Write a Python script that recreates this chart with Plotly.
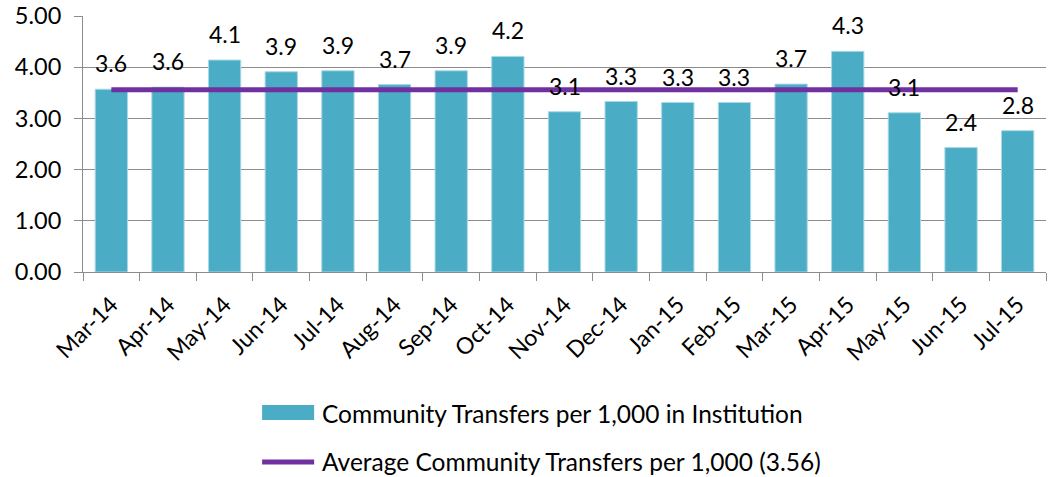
import plotly.graph_objects as go

# Monthly community transfers per 1,000 residents in the institution
months = ["Mar-14", "Apr-14", "May-14", "Jun-14", "Jul-14", "Aug-14", "Sep-14",
          "Oct-14", "Nov-14", "Dec-14", "Jan-15", "Feb-15", "Mar-15", "Apr-15",
          "May-15", "Jun-15", "Jul-15"]
transfers = [3.57, 3.61, 4.14, 3.91, 3.93, 3.66, 3.93, 4.21, 3.13, 3.33,
             3.31, 3.31, 3.67, 4.31, 3.11, 2.43, 2.76]
average = 3.56
y_ticks = [0, 1, 2, 3, 4, 5]

bar_name = "Community Transfers per 1,000 in Institution"
avg_name = f"Average Community Transfers per 1,000 ({average:.2f})"

BAR = "#4BACC6"
AVG = "#7030A0"
GRID = "#8C8C8C"
FONT = "Lato"

fig = go.Figure()
fig.add_trace(go.Bar(
    x=months, y=transfers, name=bar_name,
    marker=dict(color=BAR, line=dict(color="#A8D8E6", width=1)),
    width=0.57, showlegend=False,
))
fig.add_trace(go.Scatter(
    x=months, y=[average] * len(months), name=avg_name, mode="lines",
    line=dict(color=AVG, width=5), showlegend=False,
))

# value labels above each bar
for m, v in zip(months, transfers):
    fig.add_annotation(x=m, y=v, text=f"{v:.1f}", showarrow=False,
                       yshift=26, yanchor="middle",
                       font=dict(family=FONT, size=23, color="#000000"))

# legend drawn beneath the axis
fig.add_shape(type="rect", xref="paper", yref="paper",
              x0=0.186, x1=0.240, y0=-0.520, y1=-0.578,
              fillcolor=BAR, line=dict(width=0))
fig.add_shape(type="line", xref="paper", yref="paper",
              x0=0.186, x1=0.240, y0=-0.742, y1=-0.742,
              line=dict(color=AVG, width=5))
fig.add_annotation(xref="paper", yref="paper", x=0.2461, y=-0.551,
                   xanchor="left", yanchor="middle", showarrow=False,
                   text=bar_name, font=dict(family=FONT, size=24.5, color="#000000"))
fig.add_annotation(xref="paper", yref="paper", x=0.2461, y=-0.742,
                   xanchor="left", yanchor="middle", showarrow=False,
                   text=avg_name, font=dict(family=FONT, size=24.5, color="#000000"))

fig.update_layout(
    width=1048, height=477,
    margin=dict(l=83, r=2, t=16, b=205),
    paper_bgcolor="white", plot_bgcolor="white",
    font=dict(family=FONT, size=24, color="#000000"),
    bargap=0.43,
)
fig.update_xaxes(
    type="category", tickangle=-45, tickson="boundaries",
    ticks="outside", ticklen=8, tickcolor=GRID,
    showline=True, linecolor=GRID, linewidth=1,
    showgrid=False, tickfont=dict(family=FONT, size=23),
    ticklabelstandoff=9,
)
fig.update_yaxes(
    range=[0, 5], tickvals=y_ticks, tickformat=".2f",
    ticks="outside", ticklen=8, tickcolor=GRID,
    showline=True, linecolor=GRID, linewidth=1,
    showgrid=True, gridcolor=GRID, gridwidth=1, zeroline=False,
    tickfont=dict(family=FONT, size=23.5), ticklabelstandoff=8,
)

fig.write_html("out.html")
